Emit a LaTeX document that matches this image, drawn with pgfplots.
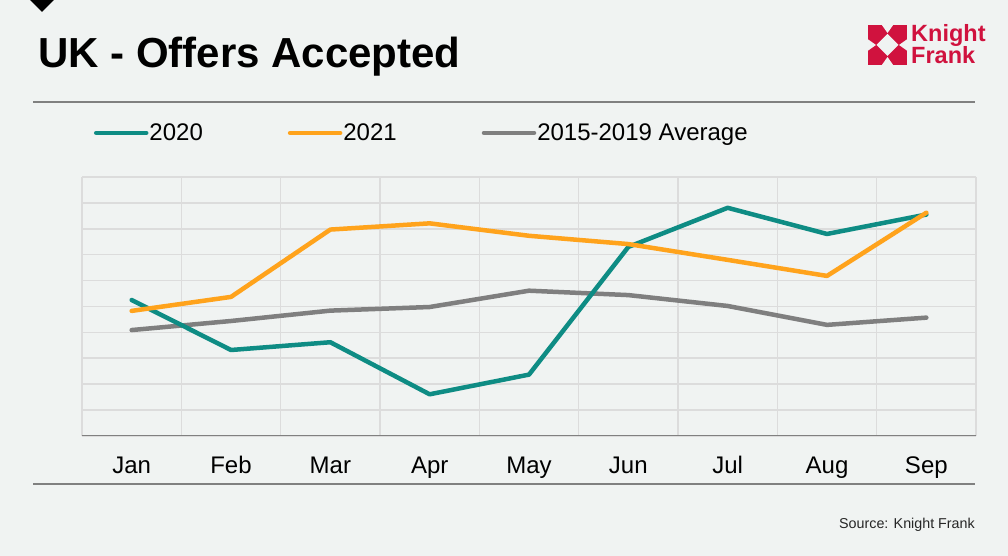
\documentclass[border=0pt]{standalone}
\usepackage{pgfplots}
\pgfplotsset{compat=1.18}
\usepackage{fontspec}
\setmainfont{Liberation Sans}
\definecolor{bg}{RGB}{240,243,242}
\definecolor{c2020}{RGB}{14,140,132}
\definecolor{c2021}{RGB}{255,163,28}
\definecolor{cavg}{RGB}{127,127,127}
\definecolor{gridc}{RGB}{220,220,220}
\definecolor{linec}{RGB}{128,128,128}
\definecolor{kfred}{RGB}{208,18,62}
\definecolor{srcc}{RGB}{38,38,38}
\begin{document}
\begin{tikzpicture}[x=1bp,y=1bp]
\fill[bg] (0,0) rectangle (1008,556);
% top-left marker
\fill[black] (30,556) -- (54,556) -- (42,544) -- cycle;
% title
\node[anchor=base west, font=\fontsize{42bp}{42bp}\selectfont\bfseries, inner sep=0] at (38,488) {UK - Offers Accepted};
% logo
\fill[kfred] (868,491) rectangle (907,531);
\fill[bg] (887.5,522) -- (898.5,511) -- (887.5,500) -- (876.5,511) -- cycle;
\fill[bg] (881.5,531.5) -- (893.5,531.5) -- (887.5,523) -- cycle;
\fill[bg] (881.5,490.5) -- (893.5,490.5) -- (887.5,499) -- cycle;
\fill[bg] (867.5,505) -- (867.5,517) -- (876,511) -- cycle;
\fill[bg] (907.5,505) -- (907.5,517) -- (899,511) -- cycle;
\node[anchor=base west, text=kfred, font=\fontsize{23.5bp}{23.5bp}\selectfont\bfseries, inner sep=0] at (911,514) {Knight};
\node[anchor=base west, text=kfred, font=\fontsize{23.5bp}{23.5bp}\selectfont\bfseries, inner sep=0] at (911,492) {Frank};
% rules
\draw[linec, line width=1.5bp] (33,454) -- (975,454);
\draw[linec, line width=1.5bp] (33,72) -- (975,72);
% source
\node[anchor=base east, text=srcc, font=\fontsize{14.3bp}{14.3bp}\selectfont, inner sep=0] at (975,27) {Source: Knight Frank};
\begin{axis}[
  at={(82bp,120bp)}, anchor=south west,
  width=894bp, height=259bp, scale only axis,
  xmin=-0.5, xmax=8.5, ymin=0, ymax=10,
  xtick={0,1,2,3,4,5,6,7,8},
  xticklabels={Jan,Feb,Mar,Apr,May,Jun,Jul,Aug,Sep},
  minor xtick={-0.5,0.5,1.5,2.5,3.5,4.5,5.5,6.5,7.5,8.5},
  xminorgrids, xmajorgrids=false,
  ytick={0,1,2,3,4,5,6,7,8,9,10}, yticklabels={}, ymajorgrids,
  major tick length=0pt, minor tick length=0pt,
  grid style={draw=gridc, line width=1.6bp},
  minor grid style={draw=gridc, line width=1.6bp},
  axis line style={draw=none},
  xticklabel style={font=\fontsize{24bp}{24bp}\selectfont, text=black, yshift=-17bp},
  legend style={at={(axis description cs:0.0134,1.17)}, anchor=west, draw=none, fill=none,
    inner sep=0pt, outer sep=0pt, font=\fontsize{24bp}{24bp}\selectfont,
    nodes={inner sep=1bp},
    /tikz/every even column/.append style={column sep=84bp}},
  legend columns=3,
  legend cell align=left,
  legend image code/.code={\draw[#1] (0bp,0bp) -- (50bp,0bp);},
  every axis plot/.append style={line width=4.5bp, line join=round, line cap=round},
]
\draw[linec, line width=1.5bp] (rel axis cs:0,0) -- (rel axis cs:1,0);
\addlegendimage{c2020, line width=4.5bp, line cap=round}
\addlegendentry{2020}
\addlegendimage{c2021, line width=4.5bp, line cap=round}
\addlegendentry{2021}
\addlegendimage{cavg, line width=4.5bp, line cap=round}
\addlegendentry{2015-2019 Average}
% 2015-2019 average
\addplot[cavg, forget plot] coordinates {(0,4.09) (1,4.44) (2,4.84) (3,4.98) (4,5.61) (5,5.44) (6,5.02) (7,4.29) (8,4.57)};
% 2020
\addplot[c2020, forget plot] coordinates {(0,5.25) (1,3.32) (2,3.62) (3,1.61) (4,2.37) (5,7.30) (6,8.81) (7,7.80) (8,8.55)};
% 2021
\addplot[c2021, forget plot] coordinates {(0,4.83) (1,5.37) (2,7.97) (3,8.21) (4,7.73) (5,7.41) (6,6.80) (7,6.18) (8,8.62)};
\end{axis}
\pgfresetboundingbox
\useasboundingbox (0,0) rectangle (1008,556);
\end{tikzpicture}
\end{document}
